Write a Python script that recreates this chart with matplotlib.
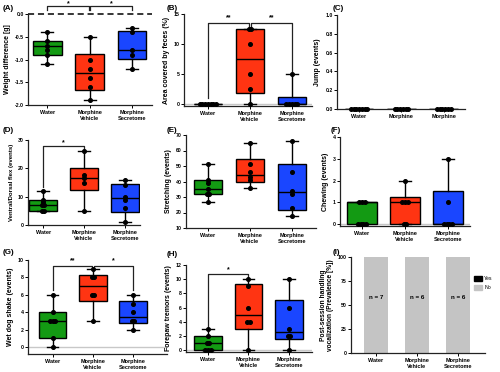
import numpy as np
import matplotlib
matplotlib.use('Agg')
import matplotlib.pyplot as plt
from matplotlib.patches import Patch

plt.rcParams['font.family'] = ['Liberation Sans', 'DejaVu Sans']
plt.rcParams['font.weight'] = 'bold'
plt.rcParams['axes.labelweight'] = 'bold'

groups = ['Water', 'Morphine\nVehicle', 'Morphine\nSecretome']
groups_short = ['Water', 'Morphine', 'Morphine']
colors = ['#139a13', '#ff3412', '#1a46ff']

# box stats per panel: (whislo, q1, med, q3, whishi) for each group, plus points
A_stats = [(-1.1, -0.9, -0.7, -0.6, -0.4), (-1.9, -1.68, -1.3, -0.88, -0.5), (-1.2, -0.98, -0.8, -0.38, -0.3)]
A_pts = [[-0.4, -0.6, -0.7, -0.8, -0.9, -1.1], [-0.5, -1.0, -1.2, -1.4, -1.6, -1.9], [-0.3, -0.4, -0.8, -0.9, -1.2]]

B_stats = [(0, 0, 0, 0, 0), (0, 1.9, 7.5, 12.5, 12.5), (0, 0, 0, 1.25, 5)]
B_pts = [[0, 0, 0, 0, 0, 0, 0], [0, 2.5, 5, 10, 12.5, 12.5], [0, 0, 0, 0, 0, 5]]

C_stats = [(0, 0, 0, 0, 0), (0, 0, 0, 0, 0), (0, 0, 0, 0, 0)]
C_pts = [[0] * 7, [0] * 6, [0] * 6]

D_stats = [(5, 5, 7, 9, 12), (5, 12.5, 16.5, 20, 26), (1, 4.75, 9.5, 14.5, 16)]
D_pts = [[5, 5, 7, 7, 8, 9, 12], [5, 15, 16.5, 17.5, 26], [1, 6, 9, 10, 14, 16]]

E_stats = [(27, 32, 35, 41, 51), (36, 39.5, 44.5, 54.5, 65), (18, 21.5, 33, 51, 66)]
E_pts = [[27, 32, 32, 35, 39, 41, 51], [36, 41, 43, 46, 51, 65], [18, 23, 32, 34, 46, 66]]

F_stats = [(0, 0, 1, 1, 1), (0, 0, 1, 1.25, 2), (0, 0, 0, 1.5, 3)]
F_pts = [[0, 0, 0, 0, 1, 1, 1], [0, 0, 1, 1, 1, 2], [0, 0, 0, 0, 1, 3]]

G_stats = [(0, 1, 3, 4, 6), (3, 5.25, 7, 8.25, 9), (2, 2.75, 3.5, 5.25, 6)]
G_pts = [[0, 1, 3, 3, 3, 4, 6], [3, 6, 6, 8, 8, 9], [2, 3, 3, 4, 5, 6]]

H_stats = [(0, 0, 1, 2, 3), (0, 3, 5, 9.25, 10), (0, 1.5, 2.5, 7, 10)]
H_pts = [[0, 0, 0, 1, 1, 2, 3], [0, 4, 4, 6, 9, 10], [0, 2, 2, 3, 6, 10]]

I_yes = [0, 0, 0]
I_no = [100, 100, 100]
I_n = ['n = 7', 'n = 6', 'n = 6']

W, Hh = 500, 372
fig = plt.figure(figsize=(5, 3.72), dpi=100)


def make_ax(l, t, r, b):
    ax = fig.add_axes([l / W, 1 - b / Hh, (r - l) / W, (b - t) / Hh])
    for s in ['top', 'right']:
        ax.spines[s].set_visible(False)
    for s in ['left', 'bottom']:
        ax.spines[s].set_linewidth(0.9)
        ax.spines[s].set_color('#222222')
    ax.tick_params(labelsize=3.7, length=2, width=0.7, pad=1)
    ax.tick_params(axis='x', labelsize=4, pad=1.5)
    return ax


def spread(vals, step=0.065):
    vals = np.asarray(vals, float)
    off = np.zeros(len(vals))
    for v in np.unique(vals):
        idx = np.where(vals == v)[0]
        off[idx] = (np.arange(len(idx)) - (len(idx) - 1) / 2) * step
    return off


def boxes(ax, stats, pts, width=0.68):
    st = []
    for s in stats:
        st.append(dict(whislo=s[0], q1=s[1], med=s[2], q3=s[3], whishi=s[4], fliers=[]))
    bp = ax.bxp(st, positions=[1, 2, 3], widths=width, patch_artist=True,
                showfliers=False, capwidths=0.28,
                boxprops=dict(linewidth=1.0, edgecolor='black'),
                medianprops=dict(color='black', linewidth=1.0),
                whiskerprops=dict(color='black', linewidth=1.0),
                capprops=dict(color='black', linewidth=1.0))
    for patch, c in zip(bp['boxes'], colors):
        patch.set_facecolor(c)
    for i, p in enumerate(pts):
        ax.plot(i + 1 + spread(p), p, 'o', color='black', ms=2.6, zorder=5, clip_on=False)
    ax.set_xticks([1, 2, 3])


def bracket(ax, x1, x2, y, y1, y2, text, ty):
    ax.plot([x1, x1, x2, x2], [y1, y, y, y2], color='#222222', lw=0.9, clip_on=False)
    ax.text((x1 + x2) / 2, ty, text, ha='center', va='center', fontsize=5, clip_on=False)


def zero_line(ax):
    ax.axhline(0, color='#c8c8c8', lw=1.0, zorder=0)


def panel_label(x, y, s):
    fig.text(x / W, 1 - y / Hh, s, fontsize=5.8, fontweight='bold', va='center', ha='left')


# (A)
ax = make_ax(28, 14, 152, 105)
boxes(ax, A_stats, A_pts)
ax.set_xlim(0.55, 3.47)
ax.set_ylim(-2.0, 0.0)
ax.set_yticks([0.0, -0.5, -1.0, -1.5, -2.0])
ax.set_yticklabels(['0.0', '-0.5', '-1.0', '-1.5', '-2.0'])
ax.set_xticklabels(groups)
ax.axhline(0, color='black', lw=1.1, ls=(0, (4, 2.5)), clip_on=False)
bracket(ax, 1, 1.98, 0.17, 0.08, 0.08, '*', 0.22)
bracket(ax, 2.02, 3, 0.17, 0.08, 0.08, '*', 0.22)
ax.set_ylabel('Weight difference [g]', fontsize=5, labelpad=3)
panel_label(3, 8, '(A)')

# (B)
ax = make_ax(184, 14, 312, 106)
zero_line(ax)
boxes(ax, B_stats, B_pts)
ax.set_xlim(0.43, 3.48)
ax.set_ylim(-0.33, 15)
ax.set_yticks([0, 5, 10, 15])
ax.set_xticklabels(groups)
bracket(ax, 1, 1.97, 13.5, 1.0, 12.9, '**', 14.3)
bracket(ax, 2.03, 3, 13.5, 12.9, 5.5, '**', 14.3)
ax.set_ylabel('Area covered by feces (%)', fontsize=5, labelpad=3)
panel_label(167, 8, '(B)')

# (C)
ax = make_ax(337, 15, 465, 109)
boxes(ax, C_stats, C_pts)
ax.set_xlim(0.48, 3.5)
ax.set_ylim(0, 1.0)
ax.set_yticks([0.0, 0.2, 0.4, 0.6, 0.8, 1.0])
ax.set_xticklabels(groups_short)
ax.set_ylabel('Jump (events)', fontsize=5, labelpad=3)
panel_label(333, 8, '(C)')

# (D)
ax = make_ax(28, 140, 140, 225)
boxes(ax, D_stats, D_pts)
ax.set_xlim(0.63, 3.37)
ax.set_ylim(0, 30)
ax.set_yticks([0, 10, 20, 30])
ax.set_xticklabels(groups)
bracket(ax, 1, 2, 28, 13.5, 27, '*', 29.2)
ax.set_ylabel('Ventral/Dorsal flex (events)', fontsize=4.3, labelpad=3)
panel_label(3, 130, '(D)')

# (E)
ax = make_ax(186, 135, 316, 228)
boxes(ax, E_stats, E_pts)
ax.set_xlim(0.48, 3.57)
ax.set_ylim(10, 70)
ax.set_yticks([10, 20, 30, 40, 50, 60, 70])
ax.set_xticklabels(groups)
ax.set_ylabel('Stretching (events)', fontsize=5, labelpad=3)
panel_label(167, 131, '(E)')

# (F)
ax = make_ax(340, 137, 470, 226)
zero_line(ax)
boxes(ax, F_stats, F_pts)
ax.set_xlim(0.49, 3.51)
ax.set_ylim(-0.09, 4)
ax.set_yticks([0, 1, 2, 3, 4])
ax.set_xticklabels(groups)
ax.set_ylabel('Chewing (events)', fontsize=5, labelpad=3)
panel_label(331, 131, '(F)')

# (G)
ax = make_ax(28, 260, 167, 354)
zero_line(ax)
boxes(ax, G_stats, G_pts)
ax.set_xlim(0.38, 3.85)
ax.set_ylim(-0.8, 10)
ax.set_yticks([0, 2, 4, 6, 8, 10])
ax.set_xticklabels(groups)
bracket(ax, 1, 1.97, 9.3, 6.6, 9.2, '**', 9.9)
bracket(ax, 2.03, 3, 9.3, 9.2, 6.6, '*', 9.9)
ax.set_ylabel('Wet dog shake (events)', fontsize=5, labelpad=3)
panel_label(3, 253, '(G)')

# (H)
ax = make_ax(186, 265, 312, 352)
zero_line(ax)
boxes(ax, H_stats, H_pts)
ax.set_xlim(0.46, 3.57)
ax.set_ylim(-0.28, 12)
ax.set_yticks([0, 2, 4, 6, 8, 10, 12])
ax.set_xticklabels(groups)
bracket(ax, 1, 2, 10.75, 3.4, 10.35, '*', 11.3)
ax.set_ylabel('Forepaw tremors (events)', fontsize=5, labelpad=3)
panel_label(167, 255, '(H)')

# (I)
ax = make_ax(351, 257, 485, 353)
x = np.arange(1, 4)
ax.bar(x, I_no, width=0.6, color='#c4c4c4', label='No')
ax.bar(x, I_yes, width=0.6, bottom=I_no, color='black', label='Yes')
for xi, s in zip(x, I_n):
    ax.text(xi, 58, s, ha='center', va='center', fontsize=4.5, fontweight='bold')
ax.set_xlim(0.39, 3.66)
ax.set_ylim(0, 100)
ax.set_yticks([0, 25, 50, 75, 100])
ax.set_xticks(x)
ax.set_xticklabels(groups)
ax.set_ylabel('Post-session handling\nvocalization (Prevalence [%])', fontsize=4.8, labelpad=3,
              linespacing=1.0)
handles = [Patch(color='black', label='Yes'), Patch(color='#c4c4c4', label='No')]
ax.legend(handles=handles, loc='upper left', bbox_to_anchor=(0.92, 0.8), frameon=False,
          handlelength=1.4, handleheight=0.9, handletextpad=0.5, labelspacing=0.8,
          borderpad=0, borderaxespad=0, prop={'size': 3.8, 'weight': 'normal'})
panel_label(333, 253, '(I)')

fig.savefig('out.png', dpi=100)
